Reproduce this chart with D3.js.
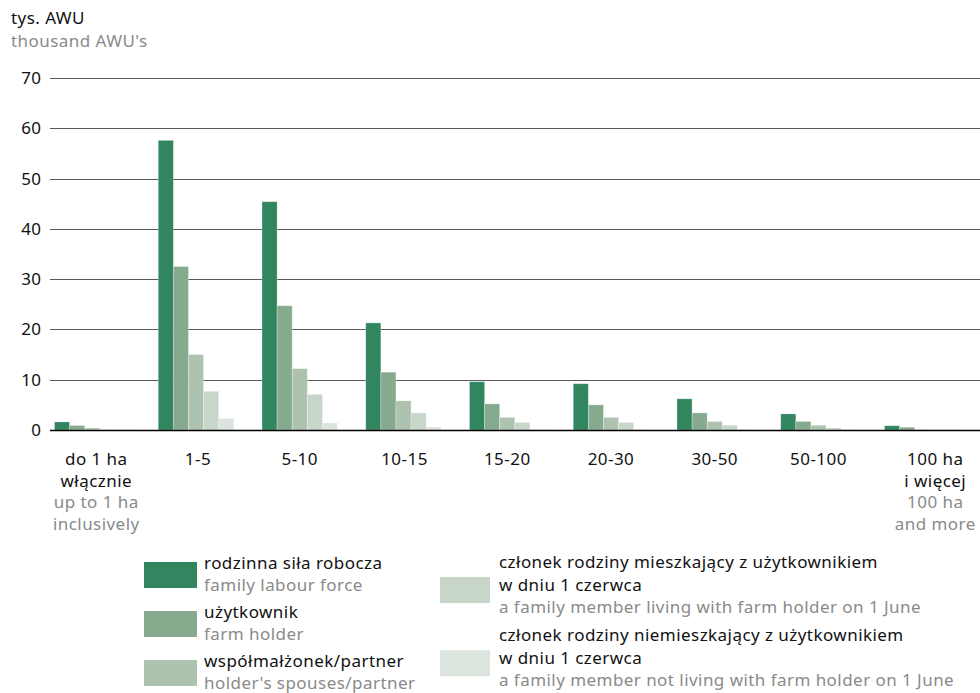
<!DOCTYPE html>
<html>
<head>
<meta charset="utf-8">
<script src="https://cdn.jsdelivr.net/npm/d3@7"></script>
<style>
  html, body { margin: 0; padding: 0; background: #fff; }
  svg { display: block; font-family: "Noto Sans", "Open Sans", sans-serif; }
  svg text { font-size: 17px; letter-spacing: 0.45px; }
</style>
</head>
<body>
<svg id="chart" width="980" height="693"></svg>
<script>
// ---- data ----
const categories = ["do 1 ha", "1-5", "5-10", "10-15", "15-20", "20-30", "30-50", "50-100", "100 ha"];
const categoryLabelsPL = [["do 1 ha", "włącznie"], ["1-5"], ["5-10"], ["10-15"], ["15-20"], ["20-30"], ["30-50"], ["50-100"], ["100 ha", "i więcej"]];
const categoryLabelsEN = [["up to 1 ha", "inclusively"], [], [], [], [], [], [], [], ["100 ha", "and more"]];

const seriesNames = ["family", "holder", "spouse", "living", "notLiving"];
const familyLabour = [1.6, 57.6, 45.4, 21.3, 9.6, 9.2, 6.2, 3.2, 0.85];
const farmHolder   = [0.9, 32.5, 24.7, 11.5, 5.2, 5.0, 3.4, 1.7, 0.55];
const spouse       = [0.4, 15.0, 12.2, 5.8, 2.5, 2.5, 1.7, 0.95, 0.1];
const memberLiving = [0.1, 7.7, 7.1, 3.4, 1.5, 1.5, 0.95, 0.4, 0.05];
const memberNotLiving = [0.05, 2.3, 1.4, 0.6, 0.1, 0.1, 0.1, 0.05, 0.02];
const seriesValues = [familyLabour, farmHolder, spouse, memberLiving, memberNotLiving];

const yTicks = [0, 10, 20, 30, 40, 50, 60, 70];

const legendPL = ["rodzinna siła robocza", "użytkownik", "współmałżonek/partner",
  ["członek rodziny mieszkający z użytkownikiem", "w dniu 1 czerwca"],
  ["członek rodziny niemieszkający z użytkownikiem", "w dniu 1 czerwca"]];
const legendEN = ["family labour force", "farm holder", "holder's spouses/partner",
  "a family member living with farm holder on 1 June",
  "a family member not living with farm holder on 1 June"];

const colors = ["#31855f", "#86aa8d", "#adc3b0", "#c8d6ca", "#dce4de"];

// ---- chart ----
const svg = d3.select("#chart");
const x0 = d3.scaleBand().domain(categories).range([54.5, 960]).paddingInner(0.272).paddingOuter(0);
const x1 = d3.scaleBand().domain(seriesNames).range([0, x0.bandwidth()]).padding(0);
const y = d3.scaleLinear().domain([0, 70]).range([430, 78]);

// units
svg.append("text").attr("x", 11).attr("y", 24).attr("fill", "#111").text("tys. AWU");
svg.append("text").attr("x", 11).attr("y", 47).attr("fill", "#8a8a8a").text("thousand AWU's");

// grid
const grid = svg.append("g");
grid.selectAll("line").data(yTicks.filter(d => d > 0)).join("line")
  .attr("x1", 50).attr("x2", 980)
  .attr("y1", d => Math.round(y(d)) + 0.5).attr("y2", d => Math.round(y(d)) + 0.5)
  .attr("stroke", "#5a5a5a").attr("stroke-width", 1.1);

// y labels
svg.append("g").selectAll("text").data(yTicks).join("text")
  .attr("x", 41.5).attr("y", d => y(d) + 6)
  .attr("text-anchor", "end").attr("fill", "#111")
  .text(d => d);

// bars
const groups = svg.append("g").selectAll("g").data(categories).join("g")
  .attr("transform", d => `translate(${x0(d)},0)`);
groups.selectAll("rect").data((c, i) => seriesNames.map((s, j) => ({ s, j, v: seriesValues[j][i] })))
  .join("rect")
  .attr("x", d => x1(d.s)).attr("width", x1.bandwidth())
  .attr("y", d => y(d.v)).attr("height", d => y(0) - y(d.v))
  .attr("fill", d => colors[d.j])
  .attr("stroke", "rgba(255,255,255,0.35)").attr("stroke-width", 0.8);

// baseline
svg.append("line").attr("x1", 50).attr("x2", 980).attr("y1", 430.5).attr("y2", 430.5)
  .attr("stroke", "#000").attr("stroke-width", 1.6);

// category labels
const labelOffsets = [4, 2, 0, 1, 0, 0, 0, 0, 13];
categories.forEach((c, i) => {
  const cx = x0(c) + x0.bandwidth() / 2 + labelOffsets[i];
  const lines = categoryLabelsPL[i].map(t => ({ t, col: "#111" }))
    .concat(categoryLabelsEN[i].map(t => ({ t, col: "#8a8a8a" })));
  lines.forEach((l, k) => {
    svg.append("text").attr("x", cx).attr("y", 465 + k * 21.7)
      .attr("text-anchor", "middle").attr("fill", l.col).text(l.t);
  });
});

// legend
const leg = svg.append("g");
// left column
[0, 1, 2].forEach((j, k) => {
  const top = 562 + k * 49;
  leg.append("rect").attr("x", 144).attr("y", top).attr("width", 53).attr("height", 26).attr("fill", colors[j]);
  leg.append("text").attr("x", 204).attr("y", top + 7).attr("fill", "#111").text(legendPL[j]);
  leg.append("text").attr("x", 204).attr("y", top + 29).attr("fill", "#8a8a8a").text(legendEN[j]);
});
// right column
[3, 4].forEach((j, k) => {
  const top = 577 + k * 73.3;
  leg.append("rect").attr("x", 440).attr("y", top).attr("width", 50).attr("height", 26).attr("fill", colors[j]);
  legendPL[j].forEach((t, m) => {
    leg.append("text").attr("x", 499).attr("y", top - 9 + m * 22.5).attr("fill", "#111").text(t);
  });
  leg.append("text").attr("x", 499).attr("y", top - 9 + 45).attr("fill", "#8a8a8a").text(legendEN[j]);
});
</script>
</body>
</html>
